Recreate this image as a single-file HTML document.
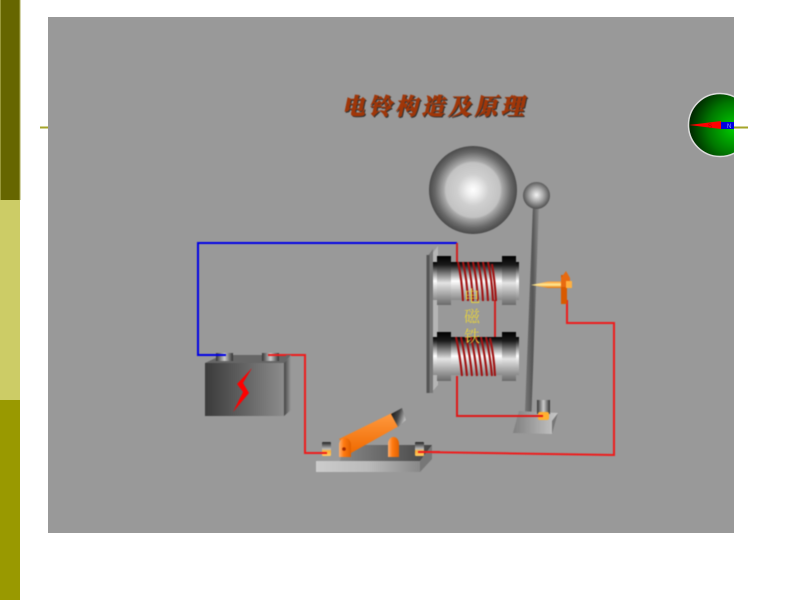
<!DOCTYPE html>
<html><head><meta charset="utf-8"><style>
html,body{margin:0;padding:0;background:#fff;width:800px;height:600px;overflow:hidden}
svg{display:block}
</style></head><body>
<svg width="800" height="600" viewBox="0 0 800 600" xmlns="http://www.w3.org/2000/svg">
<defs>
<radialGradient id="bell"><stop offset="0" stop-color="#fff"/><stop offset=".14" stop-color="#f0f0f0"/><stop offset=".36" stop-color="#cfcfcf"/><stop offset=".62" stop-color="#c2c2c2"/><stop offset=".66" stop-color="#a8a8a8"/><stop offset=".86" stop-color="#686868"/><stop offset="1" stop-color="#4a4a4a"/></radialGradient>
<radialGradient id="ball" cx=".5" cy=".48"><stop offset="0" stop-color="#f4f4f4"/><stop offset=".5" stop-color="#aaa"/><stop offset="1" stop-color="#555"/></radialGradient>
<radialGradient id="globe" cx=".72" cy=".55" r=".75"><stop offset="0" stop-color="#00cc00"/><stop offset=".55" stop-color="#007700"/><stop offset="1" stop-color="#001a00"/></radialGradient>
<linearGradient id="cyl" x1="0" y1="0" x2="0" y2="1"><stop offset="0" stop-color="#000"/><stop offset=".1" stop-color="#222"/><stop offset=".3" stop-color="#999"/><stop offset=".5" stop-color="#fff"/><stop offset=".75" stop-color="#c0c0c0"/><stop offset="1" stop-color="#8a8a8a"/></linearGradient>
<linearGradient id="fl" x1="0" y1="0" x2="0" y2="1"><stop offset="0" stop-color="#000"/><stop offset=".18" stop-color="#1a1a1a"/><stop offset=".35" stop-color="#777"/><stop offset=".55" stop-color="#e4e4e4"/><stop offset=".8" stop-color="#a0a0a0"/><stop offset="1" stop-color="#6a6a6a"/></linearGradient>
<linearGradient id="bat" x1="0" y1="0" x2="1" y2="0"><stop offset="0" stop-color="#3a3a3a"/><stop offset="1" stop-color="#8c8c8c"/></linearGradient>
<linearGradient id="batside" x1="0" y1="0" x2="1" y2="0"><stop offset="0" stop-color="#444"/><stop offset="1" stop-color="#999"/></linearGradient>
<linearGradient id="post" x1="0" y1="0" x2="1" y2="0"><stop offset="0" stop-color="#333"/><stop offset=".5" stop-color="#ccc"/><stop offset="1" stop-color="#333"/></linearGradient>
<linearGradient id="postv" x1="0" y1="0" x2="0" y2="1"><stop offset="0" stop-color="#222"/><stop offset=".5" stop-color="#bbb"/><stop offset=".65" stop-color="#ffb030"/><stop offset="1" stop-color="#ffcc66"/></linearGradient>
<linearGradient id="base" x1="0" y1="0" x2="1" y2="0"><stop offset="0" stop-color="#ccc"/><stop offset=".5" stop-color="#bbb"/><stop offset="1" stop-color="#888"/></linearGradient>
<linearGradient id="swtop" x1="0" y1="0" x2="1" y2="0"><stop offset="0" stop-color="#888"/><stop offset="1" stop-color="#444"/></linearGradient>
<linearGradient id="or" x1="0" y1="0" x2="1" y2="0"><stop offset="0" stop-color="#ffb070"/><stop offset=".4" stop-color="#ff7a10"/><stop offset="1" stop-color="#e06000"/></linearGradient>
<linearGradient id="handle" x1="0" y1="0" x2="0" y2="1"><stop offset="0" stop-color="#ff9a40"/><stop offset="1" stop-color="#f06a00"/></linearGradient>
<linearGradient id="tip" x1="0" y1="0" x2="0" y2="1"><stop offset="0" stop-color="#ff9a30"/><stop offset=".5" stop-color="#ffee99"/><stop offset="1" stop-color="#e87000"/></linearGradient>
<linearGradient id="rod" x1="0" y1="0" x2="1" y2="0"><stop offset="0" stop-color="#777"/><stop offset=".55" stop-color="#555"/><stop offset="1" stop-color="#8a8a8a"/></linearGradient>
<linearGradient id="bfront" x1="0" y1="0" x2="1" y2="0"><stop offset="0" stop-color="#808080"/><stop offset="1" stop-color="#c8c8c8"/></linearGradient>
<linearGradient id="tipk" x1="0" y1="0" x2="1" y2=".4"><stop offset="0" stop-color="#111"/><stop offset=".55" stop-color="#444"/><stop offset="1" stop-color="#bbb"/></linearGradient>
<clipPath id="cl"><rect x="680" y="85" width="54" height="80"/></clipPath>
</defs>

<rect x="0" y="0" width="20" height="200" fill="#666600"/>
<rect x="0" y="200" width="20" height="200" fill="#cccc66"/>
<rect x="0" y="400" width="20" height="200" fill="#999900"/>
<rect x="0" y="0" width="1" height="200" fill="#99993a"/>
<rect x="19.5" y="0" width="1" height="200" fill="#aaaa55"/>

<rect x="48" y="17" width="686" height="516" fill="#999"/>
<rect x="40" y="126.5" width="8" height="2" fill="#a5a52a"/>
<rect x="734" y="126.5" width="14" height="2" fill="#a5a52a"/>

<!-- compass -->
<g clip-path="url(#cl)">
<circle cx="720" cy="125" r="31.5" fill="url(#globe)" stroke="#ddd" stroke-width="1.5"/>
<polygon points="689,125 721,121 721,129" fill="#f00"/>
<rect x="721" y="122" width="14" height="7" fill="#0000e0"/>
<text x="727" y="128" font-family="Liberation Sans,sans-serif" font-size="6" fill="#99f">N</text>
<text x="708" y="128" font-family="Liberation Sans,sans-serif" font-size="6" fill="#a00">S</text>
</g>

<g style="filter:blur(.45px)">
<!-- title -->
<g font-family="'Liberation Serif','Noto Serif CJK SC',serif" font-size="23" font-weight="900">
<text transform="translate(343,115.500) skewX(-12)" fill="#333" stroke="#333" stroke-width=".5" letter-spacing="3.500">电铃构造及原理</text>
<text transform="translate(342,114.500) skewX(-12)" fill="#a03608" stroke="#a03608" stroke-width=".5" letter-spacing="3.500">电铃构造及原理</text>
</g>

<!-- bell + hammer -->
<circle cx="473" cy="190" r="44" fill="url(#bell)"/>
<polygon points="533,205 539,205 531.500,412 525,412" fill="url(#rod)"/>
<circle cx="536.500" cy="195.500" r="13.500" fill="url(#ball)"/>

<!-- plate -->
<polygon points="431,255 438,246 438,385 431,393" fill="#b5b5b5"/>
<polygon points="427,257 433,249 433,393 427,393" fill="#777"/>
<rect x="426.500" y="255" width="3" height="138" fill="#555"/>

<!-- wires -->
<g fill="none" stroke-width="2">
<polyline points="222,355 198,355 198,243 457,243" stroke="#0000e6"/>
<polyline points="457,243 457,262" stroke="#d02020"/>
<polyline points="495,300 495,337" stroke="#d02020"/>
<polyline points="457,376 457,416 543,416" stroke="#e01818"/>
<polyline points="268,355 305,355 305,453 326,453" stroke="#ee1c1c"/>
<polyline points="567,300 567,323 614,323 614,455 420,452" stroke="#ee1c1c"/>
</g>

<!-- magnets -->
<rect x="433" y="262" width="86" height="38" fill="url(#cyl)"/>
<rect x="437" y="256" width="14" height="49" fill="url(#fl)"/>
<rect x="502" y="256" width="14" height="49" fill="url(#fl)"/>
<rect x="433" y="337" width="86" height="38" fill="url(#cyl)"/>
<rect x="437" y="332" width="14" height="49" fill="url(#fl)"/>
<rect x="502" y="332" width="14" height="49" fill="url(#fl)"/>

<!-- coils -->
<g fill="none" stroke="#a01212" stroke-width="2.100">
<path d="M458 262q4 18 5 39M463 262q4 18 5 39M468 262q4 18 5 39M473 262q4 18 5 39M478 262q4 18 5 39M483 262q4 18 5 39M488 262q4 18 5 39M492 264q3 18 4 37"/>
<path d="M456 337q4 18 6 39M461 337q4 18 6 39M466 337q4 18 6 39M471 337q4 18 6 39M476 337q4 18 6 39M481 337q4 18 6 39M486 337q4 18 6 39M490 338q4 18 5 38"/>
</g>

<g font-family="'Liberation Serif','Noto Serif CJK SC',serif" font-size="16" fill="#e4d040" text-anchor="middle">
<text x="472" y="302">电</text>
<text x="472" y="322">磁</text>
<text x="472" y="342">铁</text>
</g>

<!-- contact -->
<polygon points="531,285 548,281.500 562,281.500 562,288 548,288" fill="url(#tip)"/>
<rect x="561" y="275" width="6" height="29" fill="#d85a00"/>
<polygon points="561,278 566,271 570,278 570,287 561,287" fill="#e86a10"/>
<rect x="566" y="281" width="6" height="7" fill="#ffb040"/>

<!-- hammer base -->
<polygon points="519,411 558,413 552,434 513,433" fill="url(#bfront)"/>
<polygon points="552,421 558,413 552,434" fill="#777"/>
<rect x="537" y="400" width="13" height="14" fill="url(#post)"/>
<rect x="538" y="412" width="11" height="8" rx="2" fill="#ffb030"/>
<path d="M457 416H543" stroke="#e01818" stroke-width="2" fill="none"/>

<!-- battery -->
<polygon points="205,363 222,355 291,355 284,363" fill="#666"/>
<polygon points="284,363 291,355 291,410 284,416" fill="url(#batside)"/>
<rect x="205" y="363" width="79" height="53" fill="url(#bat)"/>
<polygon points="252,368 237,384 243,392 233,412 249,393 243,383" fill="#f00"/>
<rect x="216" y="353" width="17" height="8" fill="url(#post)"/>
<rect x="262" y="353" width="17" height="8" fill="url(#post)"/>
<polyline points="198,355 226,355" stroke="#0000e6" stroke-width="2" fill="none"/>
<polyline points="268,355 286,355" stroke="#ee1c1c" stroke-width="2" fill="none"/>

<!-- switch -->
<polygon points="343,445 432,445 420,461 340,461" fill="url(#swtop)"/>
<polygon points="420,461 432,445 432,459 420,472" fill="#777"/>
<rect x="316" y="461" width="104" height="11" fill="url(#base)"/>
<rect x="322" y="442" width="9" height="14" rx="1" fill="url(#postv)"/>
<rect x="415" y="442" width="9" height="14" rx="1" fill="url(#postv)"/>
<path d="M305 453H327" stroke="#ee1c1c" stroke-width="2" fill="none"/>
<path d="M418 452H440" stroke="#ee1c1c" stroke-width="2" fill="none"/>
<path d="M388 457V444a5.500 7 0 0 1 11 0V457Z" fill="url(#or)"/>
<polygon points="339,439 392,413 399,426 351,453" fill="url(#handle)"/>
<polygon points="391,414 402,408 406,420 398,427" fill="url(#tipk)"/>
<path d="M339 457V445a6 7 0 0 1 12 0V457Z" fill="url(#or)"/>
<circle cx="344" cy="449" r="1.800" fill="#a02a00"/>
</g>
</svg>
</body></html>
